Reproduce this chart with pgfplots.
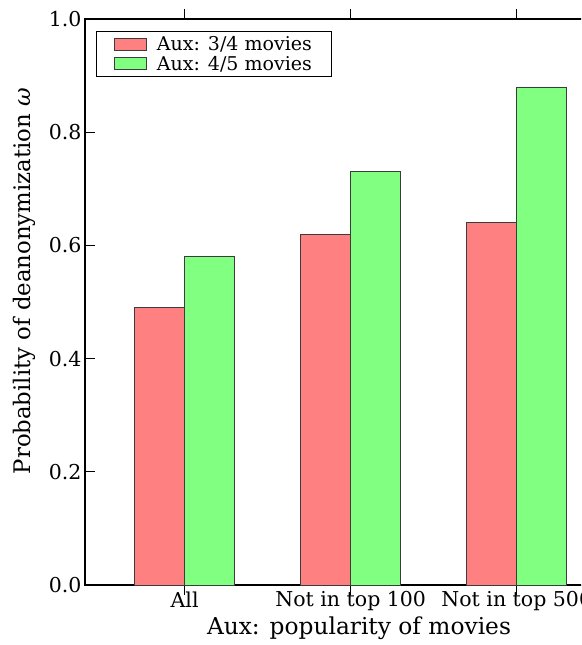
\documentclass[border=0pt]{standalone}
\usepackage{fontspec}
\setmainfont{DejaVu Serif}
\usepackage{pgfplots}
\pgfplotsset{compat=1.18}
\definecolor{barred}{RGB}{255,128,128}
\definecolor{bargreen}{RGB}{128,255,128}
\definecolor{edgegray}{RGB}{60,60,60}
\begin{document}
\begin{tikzpicture}
\path[use as bounding box, clip] (0,0) rectangle (581pt,645pt);
\begin{axis}[
  at={(85pt,60pt)}, anchor=south west,
  scale only axis, width=548pt, height=566pt,
  xmin=-0.6, xmax=2.7, ymin=0, ymax=1,
  ybar=0pt, bar width=50pt,
  xtick={0,1,2},
  xticklabels={All, Not in top 100, Not in top 500},
  ytick={0,0.2,0.4,0.6,0.8,1.0},
  yticklabel style={/pgf/number format/fixed, /pgf/number format/fixed zerofill, /pgf/number format/precision=1},
  xticklabel style={yshift=7pt},
  /pgf/number format/assume math mode=true,
  tick label style={font=\fontsize{20.5}{20.5}\selectfont},
  xlabel={Aux: popularity of movies},
  ylabel={Probability of deanonymization \textit{ω}},
  x label style={font=\fontsize{23.3}{23.3}\selectfont, at={(axis description cs:0.5,-0.076)}, anchor=center},
  y label style={font=\fontsize{22.8}{22.8}\selectfont, at={(axis description cs:-0.1103,0.537)}, anchor=center, rotate=0},
  major tick length=10pt,
  tick style={black, line width=0.8pt},
  axis line style={line width=1.3pt},
  legend style={at={(axis description cs:0.0202,0.9788)}, anchor=north west, draw=black, line width=0.8pt,
    font=\fontsize{19}{19}\selectfont, inner xsep=18pt, inner ysep=3pt, row sep=0pt},
  legend cell align=left,
  legend image code/.code={\draw[#1, draw=edgegray, line width=0.8pt] (0pt,-6pt) rectangle (32pt,6pt); \path[draw=none, fill=none] (0pt,0pt) -- (40pt,0pt);},
]
\addplot[fill=barred, draw=edgegray, line width=0.8pt] coordinates {(0,0.49) (1,0.62) (2,0.64)};
\addplot[fill=bargreen, draw=edgegray, line width=0.8pt] coordinates {(0,0.58) (1,0.73) (2,0.88)};
\legend{Aux: 3/4 movies, Aux: 4/5 movies}
\end{axis}
\end{tikzpicture}
\end{document}
